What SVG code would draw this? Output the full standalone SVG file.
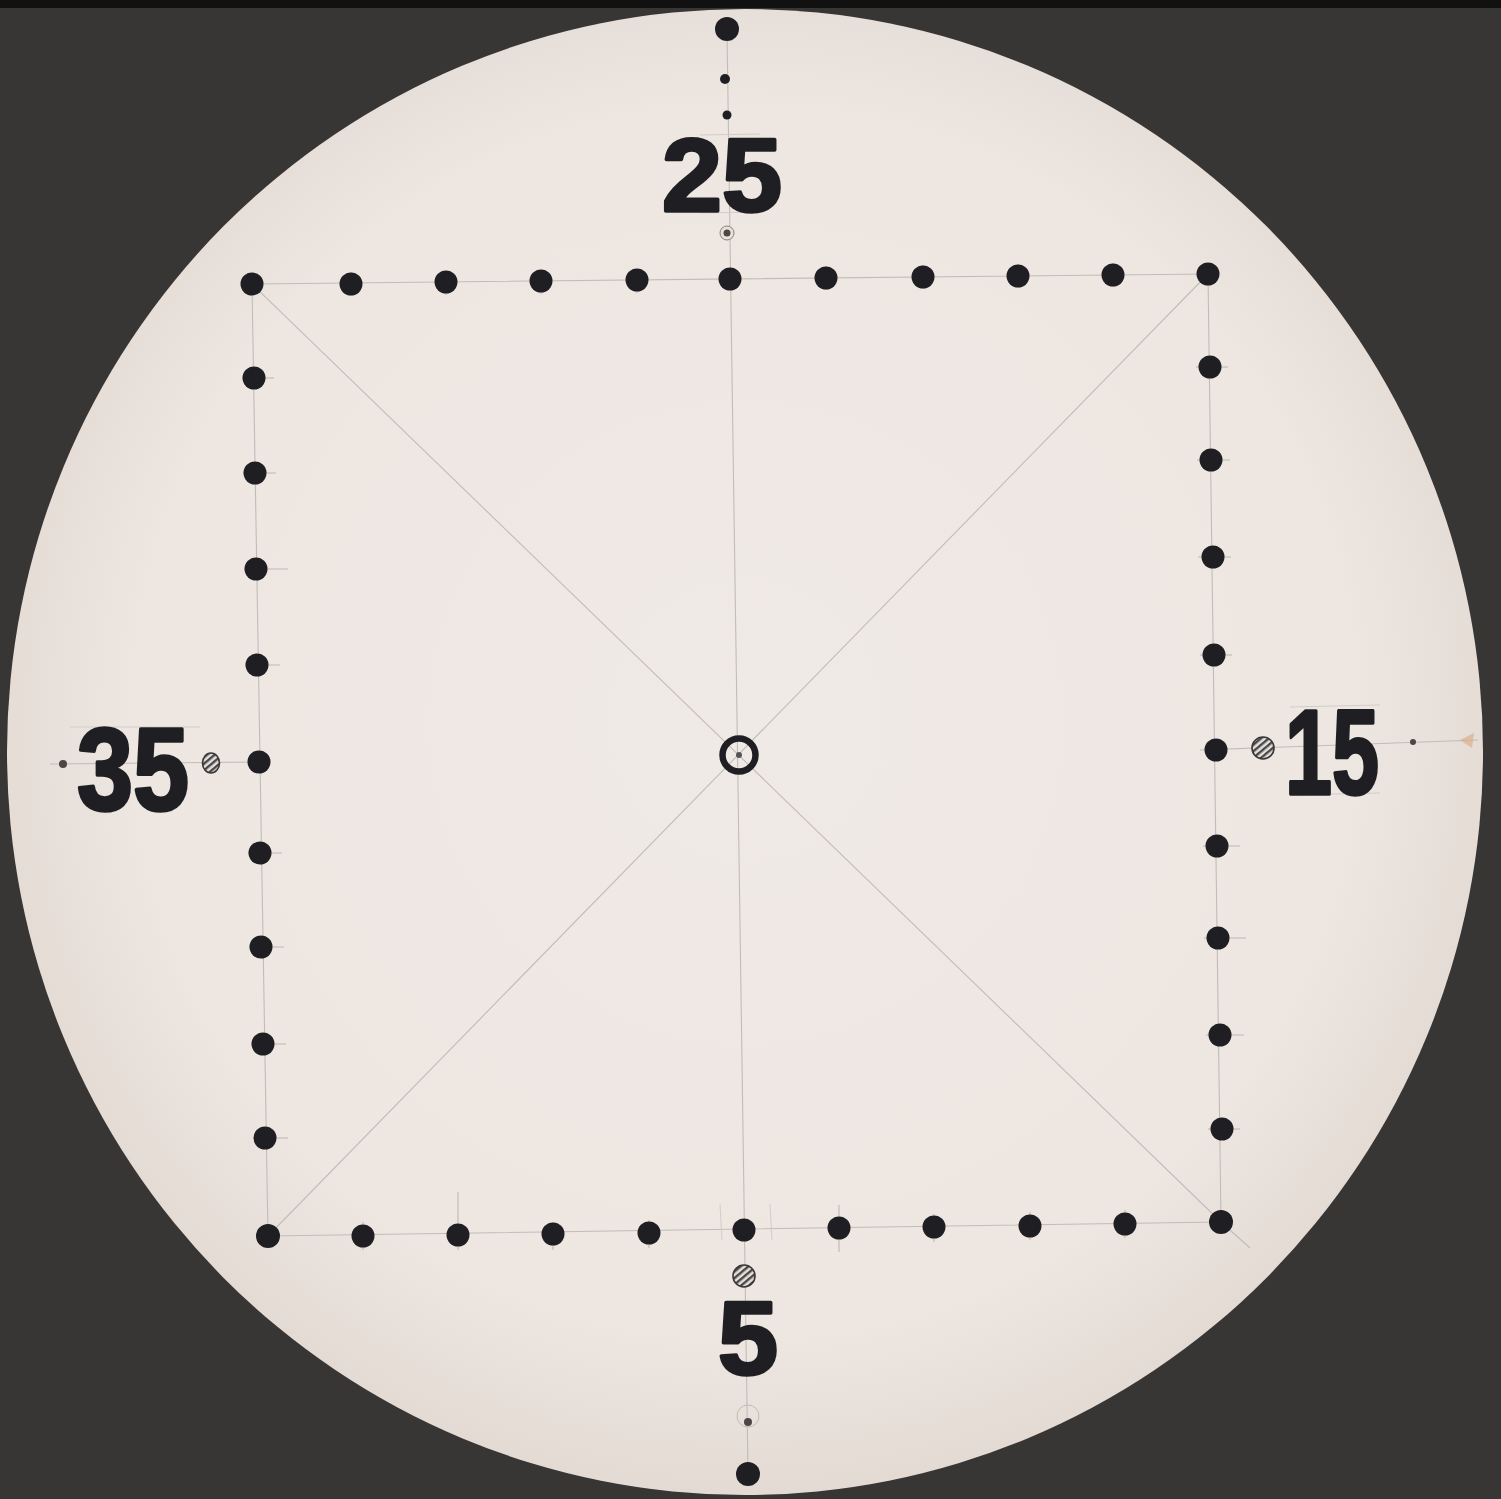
<svg xmlns="http://www.w3.org/2000/svg" width="1501" height="1499" viewBox="0 0 1501 1499">
<defs>
<radialGradient id="paper" cx="50%" cy="48%" r="52%">
<stop offset="0" stop-color="#f0eae6"/>
<stop offset="0.8" stop-color="#ede6e1"/>
<stop offset="1" stop-color="#e3dad3"/>
</radialGradient>
<pattern id="hatch" width="5" height="5" patternUnits="userSpaceOnUse" patternTransform="rotate(-40)">
<rect width="5" height="5" fill="#e6e0dc"/>
<rect width="5" height="2.4" fill="#4a4748"/>
</pattern>
</defs>
<style>
.dot{fill:#1f1f23}
.pen{stroke:#c2bcb9;stroke-width:1.1;fill:none}
.faint{stroke:#d3cdca;stroke-width:1;fill:none}
.tick{stroke:#bdb8b5;stroke-width:1.1}
.num{font-family:"Liberation Sans","Arial",sans-serif;font-weight:bold;fill:#1f1f23;stroke:#1f1f23;stroke-width:3.5;stroke-linejoin:round}
.hat{fill:url(#hatch);stroke:#3a3738;stroke-width:1.6}
.pin{fill:#4c4646}
</style>
<rect width="1501" height="1499" fill="#383535"/>
<rect width="1501" height="8" fill="#111"/>
<ellipse cx="745" cy="752" rx="738" ry="743" fill="url(#paper)"/>

<g id="pencil">
<polyline class="pen" points="252,284 1208,274 1221,1222 268,1236 252,284"/>
<line class="pen" x1="252" y1="284" x2="1221" y2="1222"/>
<line class="pen" x1="1208" y1="274" x2="268" y2="1236"/>
<line class="pen" x1="727" y1="30" x2="748" y2="1474"/>
<line class="pen" x1="50" y1="764" x2="262" y2="762"/>
<line class="pen" x1="1200" y1="750" x2="1478" y2="740"/>
<line class="pen" x1="1221" y1="1222" x2="1250" y2="1248"/>
<line class="faint" x1="700" y1="135" x2="760" y2="134"/>
<line class="faint" x1="700" y1="213" x2="760" y2="212"/>
<line class="faint" x1="1290" y1="707" x2="1380" y2="705"/>
<line class="faint" x1="1290" y1="795" x2="1380" y2="793"/>
<line class="faint" x1="70" y1="727" x2="200" y2="727"/>
<line class="faint" x1="720" y1="1204" x2="722" y2="1240"/>
<line class="faint" x1="770" y1="1204" x2="772" y2="1240"/>
<g>
<line class="tick" x1="351" y1="272" x2="351" y2="296"/>
<line class="tick" x1="446" y1="271" x2="446" y2="295"/>
<line class="tick" x1="541" y1="270" x2="541" y2="294"/>
<line class="tick" x1="637" y1="269" x2="637" y2="293"/>
<line class="tick" x1="826" y1="266" x2="826" y2="290"/>
<line class="tick" x1="923" y1="265" x2="923" y2="289"/>
<line class="tick" x1="1018" y1="264" x2="1018" y2="288"/>
<line class="tick" x1="1113" y1="263" x2="1113" y2="287"/>
<line class="tick" x1="242" y1="378" x2="274" y2="378"/>
<line class="tick" x1="243" y1="473" x2="276" y2="473"/>
<line class="tick" x1="244" y1="569" x2="288" y2="569"/>
<line class="tick" x1="245" y1="665" x2="280" y2="665"/>
<line class="tick" x1="248" y1="853" x2="282" y2="853"/>
<line class="tick" x1="249" y1="947" x2="284" y2="947"/>
<line class="tick" x1="251" y1="1044" x2="286" y2="1044"/>
<line class="tick" x1="253" y1="1138" x2="288" y2="1138"/>
<line class="tick" x1="1196" y1="367" x2="1228" y2="367"/>
<line class="tick" x1="1197" y1="460" x2="1230" y2="460"/>
<line class="tick" x1="1198" y1="557" x2="1231" y2="557"/>
<line class="tick" x1="1200" y1="655" x2="1232" y2="655"/>
<line class="tick" x1="1203" y1="846" x2="1240" y2="846"/>
<line class="tick" x1="1204" y1="938" x2="1246" y2="938"/>
<line class="tick" x1="1206" y1="1035" x2="1244" y2="1035"/>
<line class="tick" x1="1208" y1="1129" x2="1240" y2="1129"/>
<line class="tick" x1="363" y1="1222" x2="363" y2="1250"/>
<line class="tick" x1="458" y1="1192" x2="458" y2="1250"/>
<line class="tick" x1="553" y1="1222" x2="553" y2="1250"/>
<line class="tick" x1="649" y1="1220" x2="649" y2="1248"/>
<line class="tick" x1="839" y1="1205" x2="839" y2="1252"/>
<line class="tick" x1="934" y1="1214" x2="934" y2="1242"/>
<line class="tick" x1="1030" y1="1212" x2="1030" y2="1240"/>
<line class="tick" x1="1125" y1="1210" x2="1125" y2="1238"/>
</g>
</g>

<g id="dots">
<circle class="dot" cx="252" cy="284" r="11.5"/>
<circle class="dot" cx="351" cy="284" r="11.5"/>
<circle class="dot" cx="446" cy="282" r="11.5"/>
<circle class="dot" cx="541" cy="281" r="11.5"/>
<circle class="dot" cx="637" cy="280" r="11.5"/>
<circle class="dot" cx="730" cy="279" r="11.5"/>
<circle class="dot" cx="826" cy="278" r="11.5"/>
<circle class="dot" cx="923" cy="277" r="11.5"/>
<circle class="dot" cx="1018" cy="276" r="11.5"/>
<circle class="dot" cx="1113" cy="275" r="11.5"/>
<circle class="dot" cx="1208" cy="274" r="11.5"/>
<circle class="dot" cx="254" cy="378" r="11.5"/>
<circle class="dot" cx="255" cy="473" r="11.5"/>
<circle class="dot" cx="256" cy="569" r="11.5"/>
<circle class="dot" cx="257" cy="665" r="11.5"/>
<circle class="dot" cx="259" cy="762" r="11.5"/>
<circle class="dot" cx="260" cy="853" r="11.5"/>
<circle class="dot" cx="261" cy="947" r="11.5"/>
<circle class="dot" cx="263" cy="1044" r="11.5"/>
<circle class="dot" cx="265" cy="1138" r="11.5"/>
<circle class="dot" cx="268" cy="1236" r="12"/>
<circle class="dot" cx="363" cy="1236" r="11.5"/>
<circle class="dot" cx="458" cy="1235" r="11.5"/>
<circle class="dot" cx="553" cy="1234" r="11.5"/>
<circle class="dot" cx="649" cy="1233" r="11.5"/>
<circle class="dot" cx="744" cy="1230" r="11.5"/>
<circle class="dot" cx="839" cy="1228" r="11.5"/>
<circle class="dot" cx="934" cy="1227" r="11.5"/>
<circle class="dot" cx="1030" cy="1226" r="11.5"/>
<circle class="dot" cx="1125" cy="1224" r="11.5"/>
<circle class="dot" cx="1221" cy="1222" r="12"/>
<circle class="dot" cx="1210" cy="367" r="11.5"/>
<circle class="dot" cx="1211" cy="460" r="11.5"/>
<circle class="dot" cx="1213" cy="557" r="11.5"/>
<circle class="dot" cx="1214" cy="655" r="11.5"/>
<circle class="dot" cx="1216" cy="750" r="11.5"/>
<circle class="dot" cx="1217" cy="846" r="11.5"/>
<circle class="dot" cx="1218" cy="938" r="11.5"/>
<circle class="dot" cx="1220" cy="1035" r="11.5"/>
<circle class="dot" cx="1222" cy="1129" r="11.5"/>
<circle class="dot" cx="727" cy="29" r="12"/>
<circle class="dot" cx="725" cy="79" r="5"/>
<circle class="dot" cx="727" cy="115" r="4.5"/>
<circle class="dot" cx="748" cy="1474" r="12"/>
</g>

<g id="center">
<circle cx="739" cy="755" r="16.5" fill="none" stroke="#1f1f23" stroke-width="6.5"/>
<circle cx="739" cy="755" r="3" fill="#555"/>
</g>

<g id="marks">
<circle cx="727" cy="233" r="7" fill="#e9e1d8" stroke="#8a8078" stroke-width="1"/>
<circle class="pin" cx="727" cy="233" r="3.5"/>
<circle class="pin" cx="63" cy="764" r="4"/>
<circle class="pin" cx="1413" cy="742" r="3"/>
<circle cx="748" cy="1416" r="11" fill="none" stroke="#c0bab6" stroke-width="1"/>
<circle class="pin" cx="748" cy="1422" r="4"/>
<path d="M1460,740 L1474,733 L1472,748 Z" fill="#d9b08e" opacity="0.7"/>
<ellipse class="hat" cx="211" cy="763" rx="8.5" ry="10"/>
<circle class="hat" cx="1263" cy="748" r="11"/>
<circle class="hat" cx="744" cy="1276" r="11"/>
</g>

<g id="labels">
<text class="num" x="722" y="211" font-size="104" text-anchor="middle" textLength="120" lengthAdjust="spacingAndGlyphs">25</text>
<text class="num" x="133" y="810" font-size="116" text-anchor="middle" textLength="112" lengthAdjust="spacingAndGlyphs">35</text>
<text class="num" x="1332" y="794" font-size="120" text-anchor="middle" textLength="94" lengthAdjust="spacingAndGlyphs">15</text>
<text class="num" x="748" y="1374" font-size="104" text-anchor="middle" textLength="60" lengthAdjust="spacingAndGlyphs">5</text>
</g>
</svg>
